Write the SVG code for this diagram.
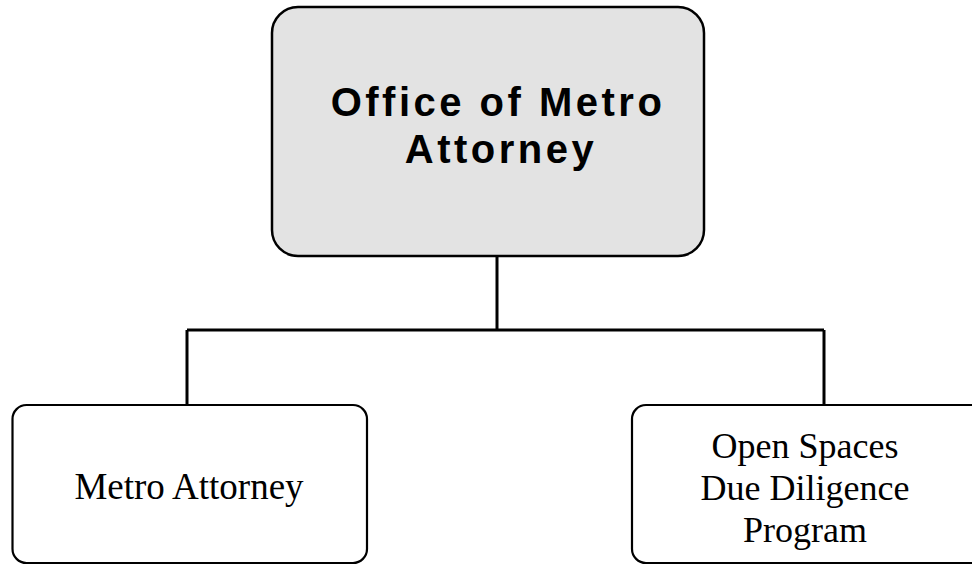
<svg xmlns="http://www.w3.org/2000/svg" width="972" height="566" viewBox="0 0 972 566">
<style>
.box{fill:#ffffff;stroke:#000;stroke-width:2.2}
.top{fill:#e3e3e3;stroke:#000;stroke-width:2.5}
.t1{font-family:"Liberation Sans",Arial,sans-serif;font-weight:bold;font-size:40px;letter-spacing:3.5px;text-anchor:middle;fill:#000}
.t2{font-family:"Liberation Serif","Times New Roman",serif;font-size:36px;text-anchor:middle;fill:#000}
.c{stroke:#000;stroke-width:3;fill:none}
</style>
<rect width="972" height="566" fill="#fff"/>
<g id="connectors">
<path class="c" d="M497 256 V330 M187 330 H824 M187 330 V406 M824 330 V406"/>
</g>
<g id="office">
<rect class="top" x="272" y="7" width="432" height="249" rx="26"/>
<text class="t1" x="498" y="116">Office of Metro</text>
<text class="t1" x="501" y="163">Attorney</text>
</g>
<g id="metro-attorney">
<rect class="box" x="12.5" y="405" width="354.5" height="158" rx="14"/>
<text class="t2" x="189" y="499" style="font-size:37px">Metro Attorney</text>
</g>
<g id="open-spaces">
<rect class="box" x="632" y="405" width="354" height="158" rx="14"/>
<text class="t2" x="805" y="458">Open Spaces</text>
<text class="t2" x="805" y="500">Due Diligence</text>
<text class="t2" x="805" y="542">Program</text>
</g>
</svg>
